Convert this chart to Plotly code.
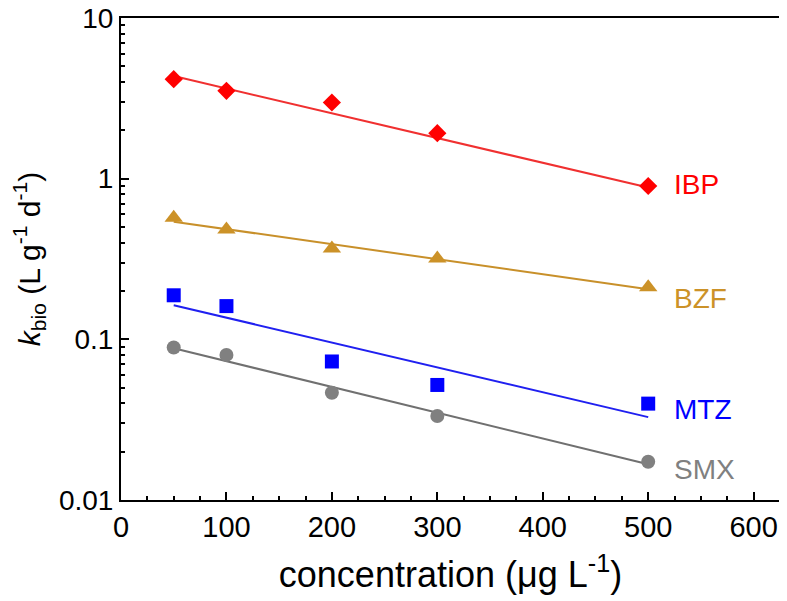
import math
import plotly.graph_objects as go

conc = [50, 100, 200, 300, 500]
fit_x = [50, 500]

series = ["IBP", "BZF", "MTZ", "SMX"]
ibp = [4.16, 3.52, 2.98, 1.92, 0.90]
bzf = [0.571, 0.482, 0.367, 0.318, 0.211]
mtz = [0.188, 0.161, 0.0728, 0.052, 0.0398]
smx = [0.0889, 0.080, 0.0465, 0.0333, 0.0173]

ibp_fit = [4.35, 0.88]
bzf_fit = [0.54, 0.205]
mtz_fit = [0.163, 0.0328]
smx_fit = [0.088, 0.0167]

label_y = [0.914, 0.180, 0.0366, 0.01555]

colors = ["#ff0000", "#cc9228", "#0000ff", "#808080"]
line_colors = ["#f03030", "#c8902a", "#2020f0", "#707070"]
symbols = ["diamond", "triangle-up", "square", "circle"]
sizes = [14, 16, 14, 14]

ys = [ibp, bzf, mtz, smx]
fits = [ibp_fit, bzf_fit, mtz_fit, smx_fit]

fig = go.Figure()
for name, y, f, c, lc, s, sz in zip(series, ys, fits, colors, line_colors, symbols, sizes):
    fig.add_trace(go.Scatter(x=fit_x, y=f, mode="lines",
                             line=dict(color=lc, width=2), showlegend=False))
    fig.add_trace(go.Scatter(x=conc, y=y, mode="markers", name=name,
                             marker=dict(symbol=s, size=sz, color=c, line=dict(width=0)),
                             showlegend=False))

for name, ly, c in zip(series, label_y, colors):
    fig.add_annotation(x=523, y=math.log10(ly), xref="x", yref="y", yanchor="middle", xanchor="left",
                       text=name, showarrow=False, font=dict(size=28, color=c))

font_family = "Liberation Sans, Arial, sans-serif"
fig.update_layout(
    width=779, height=593,
    margin=dict(l=113, r=7, t=10, b=101),
    paper_bgcolor="white", plot_bgcolor="white",
    font=dict(family=font_family, color="black", size=28),
    showlegend=False,
)
fig.update_xaxes(
    range=[0, 625], tickmode="linear", tick0=0, dtick=100,
    ticks="inside", ticklen=8, tickwidth=2, tickcolor="black",
    showline=True, linecolor="black", linewidth=2, mirror=True,
    showgrid=False, zeroline=False, automargin=False,
    tickfont=dict(size=29), ticklabeloverflow="allow",
    minor=dict(ticks="inside", ticklen=4, tickwidth=2, tickcolor="black", dtick=25, showgrid=False),
    title=dict(text="concentration (μg L<sup>-1</sup>)", font=dict(size=36), standoff=20),
)
fig.update_yaxes(
    type="log", range=[-2, 1],
    tickmode="array", tickvals=[0.01, 0.1, 1, 10], ticktext=["0.01", "0.1", "1", "10"],
    ticks="inside", ticklen=8, tickwidth=2, tickcolor="black",
    showline=True, linecolor="black", linewidth=2, mirror=True,
    showgrid=False, zeroline=False, automargin=False,
    tickfont=dict(size=28), ticklabeloverflow="allow",
    minor=dict(ticks="inside", ticklen=4, tickwidth=2, tickcolor="black", showgrid=False,
               tickmode="array",
               tickvals=[0.02, 0.03, 0.04, 0.05, 0.06, 0.07, 0.08, 0.09,
                         0.2, 0.3, 0.4, 0.5, 0.6, 0.7, 0.8, 0.9,
                         2, 3, 4, 5, 6, 7, 8, 9]),
    title=dict(text="<i>k</i><sub>bio</sub> (L g<sup>-1</sup> d<sup>-1</sup>)", font=dict(size=30), standoff=14),
)

fig.write_html("out.html")
